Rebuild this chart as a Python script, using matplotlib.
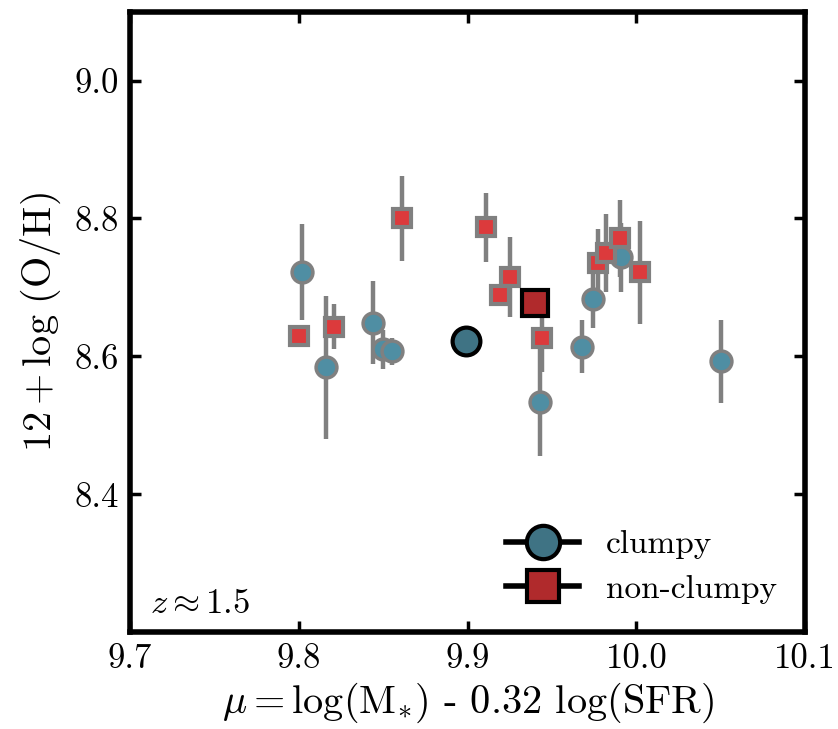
import matplotlib
matplotlib.use("Agg")
import matplotlib.pyplot as plt

plt.rcParams['font.family'] = 'cmr10'
plt.rcParams['mathtext.fontset'] = 'cm'
plt.rcParams['axes.formatter.use_mathtext'] = True

# clumpy galaxies
clumpy_x = [9.802, 9.816, 9.844, 9.850, 9.855, 9.943, 9.968, 9.974, 9.991, 10.050]
clumpy_y = [8.722, 8.584, 8.649, 8.610, 8.607, 8.534, 8.614, 8.683, 8.744, 8.593]
clumpy_err = [0.070, 0.104, 0.060, 0.028, 0.020, 0.078, 0.038, 0.042, 0.050, 0.060]

# non-clumpy galaxies
nonclumpy_x = [9.800, 9.821, 9.861, 9.911, 9.925, 9.919, 9.944, 9.977, 9.982, 9.990, 10.002]
nonclumpy_y = [8.630, 8.643, 8.800, 8.787, 8.715, 8.689, 8.627, 8.735, 8.750, 8.771, 8.722]
nonclumpy_err = [0.005, 0.033, 0.062, 0.050, 0.058, 0.010, 0.050, 0.050, 0.057, 0.056, 0.075]

# sample means
mean_clumpy = (9.899, 8.622)
mean_nonclumpy = (9.940, 8.678)

fig = plt.figure(figsize=(8.38, 7.29), dpi=100)
ax = fig.add_axes([0.155, 0.133, 0.806, 0.851])

ax.errorbar(clumpy_x, clumpy_y, yerr=clumpy_err, fmt='o', ms=15,
            mfc='#4f8ea3', mec='#808080', mew=2.5, ecolor='#808080',
            elinewidth=3.2, capsize=0, zorder=2)
ax.errorbar(nonclumpy_x, nonclumpy_y, yerr=nonclumpy_err, fmt='s', ms=13,
            mfc='#dc3a3c', mec='#808080', mew=3, ecolor='#808080',
            elinewidth=3.2, capsize=0, zorder=2)

ax.plot([mean_clumpy[0]], [mean_clumpy[1]], marker='o', ls='-', color='k', lw=4,
        ms=20, mfc='#3f7384', mec='k', mew=3, zorder=4, label='clumpy')
ax.plot([mean_nonclumpy[0]], [mean_nonclumpy[1]], marker='s', ls='-', color='k', lw=4,
        ms=19, mfc='#b02a2c', mec='k', mew=3, zorder=4, label='non-clumpy')

ax.set_xlim(9.7, 10.1)
ax.set_ylim(8.2, 9.1)
ax.set_xticks([9.7, 9.8, 9.9, 10.0, 10.1])
ax.set_xticklabels(['9.7', '9.8', '9.9', '10.0', '10.1'])
ax.set_yticks([8.4, 8.6, 8.8, 9.0])
ax.set_yticklabels(['8.4', '8.6', '8.8', '9.0'])

for s in ax.spines.values():
    s.set_linewidth(4)
ax.tick_params(direction='in', length=8, width=2.5, labelsize=25,
               top=True, right=True, pad=8)

ax.set_xlabel(r'$\mu = \log(\mathrm{M}_{*})$ - 0.32 $\log(\mathrm{SFR})$', fontsize=29, labelpad=4)
ax.set_ylabel(r'$12 + \log\,(\mathrm{O/H})$', fontsize=29, labelpad=8)

ax.text(0.03, 0.03, r'$z \approx 1.5$', transform=ax.transAxes, fontsize=25)

ax.legend(loc='lower right', frameon=False, fontsize=24, handlelength=2.2,
          borderaxespad=0.45, labelspacing=0.45, handletextpad=0.8, numpoints=1,
          markerscale=1.2)

fig.savefig('out.png', dpi=100)
